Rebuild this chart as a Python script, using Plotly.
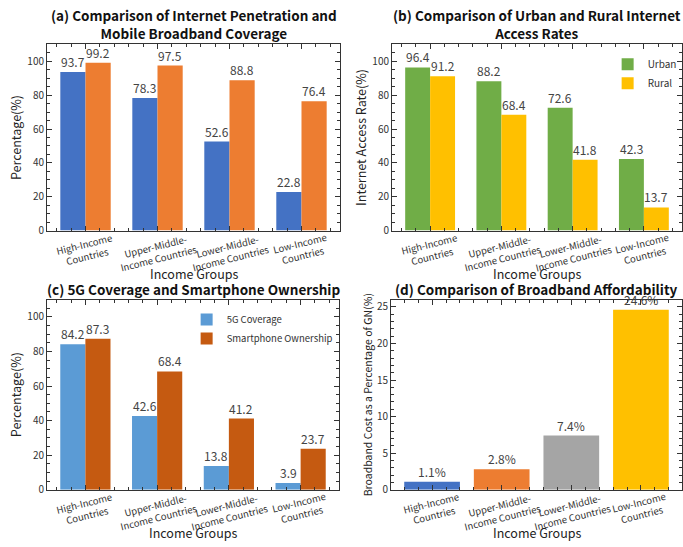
import plotly.graph_objects as go

# Income groups (x categories) and series values
groups = [
    "High-Income<br>Countries",
    "Upper-Middle-<br>Income Countries",
    "Lower-Middle-<br>Income Countries",
    "Low-Income<br>Countries",
]
internet_penetration = [93.7, 78.3, 52.6, 22.8]
mobile_broadband = [99.2, 97.5, 88.8, 76.4]
urban_access = [96.4, 88.2, 72.6, 42.3]
rural_access = [91.2, 68.4, 41.8, 13.7]
coverage_5g = [84.2, 42.6, 13.8, 3.9]
smartphone_own = [87.3, 68.4, 41.2, 23.7]
broadband_cost = [1.1, 2.8, 7.4, 24.6]

pos = list(range(len(groups)))

FONT = "Noto Sans CJK SC"
AX = "#333333"
LBL = "#444444"
HALF = 0.175  # half of the grouped bar width

fig = go.Figure()


def pair(y, name, color, xa, ya, legend=None, show=False):
    return go.Bar(
        x=pos, y=y, name=name, marker=dict(color=color, line=dict(width=0)),
        xaxis=xa, yaxis=ya, showlegend=show, legend=legend,
    )


# (a)
fig.add_trace(pair(internet_penetration, "Internet Penetration", "#4472C4", "x", "y"))
fig.add_trace(pair(mobile_broadband, "Mobile Broadband Coverage", "#ED7D31", "x", "y"))
# (b)
fig.add_trace(pair(urban_access, "Urban", "#70AD47", "x2", "y2", "legend", True))
fig.add_trace(pair(rural_access, "Rural", "#FFC000", "x2", "y2", "legend", True))
# (c)
fig.add_trace(pair(coverage_5g, "5G Coverage", "#5B9BD5", "x3", "y3", "legend2", True))
fig.add_trace(pair(smartphone_own, "Smartphone Ownership", "#C55A11", "x3", "y3", "legend2", True))
# (d)
fig.add_trace(go.Bar(
    x=pos, y=broadband_cost, width=0.8, offset=-0.4,
    marker=dict(color=["#4472C4", "#ED7D31", "#A5A5A5", "#FFC000"], line=dict(width=0)),
    xaxis="x4", yaxis="y4", showlegend=False,
))


def value_labels(xa, ya, values, shift, fmt):
    for p, v in zip(pos, values):
        fig.add_annotation(
            text=fmt.format(v), xref=xa, yref=ya, x=p + shift, y=v,
            xanchor="center", yanchor="bottom", yshift=0, showarrow=False,
            font=dict(size=12, color=LBL, family=FONT),
        )


value_labels("x", "y", internet_penetration, -HALF, "{:.1f}")
value_labels("x", "y", mobile_broadband, HALF, "{:.1f}")
value_labels("x2", "y2", urban_access, -HALF, "{:.1f}")
value_labels("x2", "y2", rural_access, HALF, "{:.1f}")
value_labels("x3", "y3", coverage_5g, -HALF, "{:.1f}")
value_labels("x3", "y3", smartphone_own, HALF, "{:.1f}")
value_labels("x4", "y4", broadband_cost, 0, "{:.1f}%")


def xaxis(domain, anchor, rng):
    return dict(
        domain=domain, anchor=anchor, range=rng, tickmode="array", tickvals=pos,
        showticklabels=False, ticks="inside", ticklen=5, tickcolor=AX,
        showline=True, linecolor=AX, linewidth=1, mirror="allticks",
        showgrid=False, zeroline=False,
        minor=dict(tickmode="linear", tick0=0, dtick=0.2, ticks="inside",
                   ticklen=3, tickcolor=AX, showgrid=False),
    )


def yaxis(domain, anchor, rng, dtick, mdtick, title, size=12.5):
    return dict(
        domain=domain, anchor=anchor, range=rng, tickmode="linear", tick0=0,
        dtick=dtick, ticks="inside", ticklen=5, tickcolor=AX,
        tickfont=dict(size=10, color=AX, family=FONT),
        showline=True, linecolor=AX, linewidth=1, mirror="allticks",
        showgrid=False, zeroline=False,
        minor=dict(tickmode="linear", dtick=mdtick, ticks="inside",
                   ticklen=3, tickcolor=AX, showgrid=False),
        title=dict(text=title, font=dict(size=size, color="#222222", family=FONT),
                   standoff=2),
    )


W, H = 683, 547
xa_l = [47 / W, 340 / W]
xa_r = [392 / W, 682 / W]
xc_l = [47 / W, 339 / W]
xd_r = [391 / W, 682 / W]
y_top = [1 - 233 / H, 1 - 44 / H]
y_bot = [1 - 496 / H, 1 - 303 / H]

grp_range = [-0.535, 3.535]
single_range = [-0.59, 3.59]

fig.update_layout(
    width=W, height=H, margin=dict(l=0, r=0, t=0, b=0),
    paper_bgcolor="white", plot_bgcolor="white",
    font=dict(family=FONT, color=AX),
    barmode="group", bargap=0.3, bargroupgap=0,
    xaxis=xaxis(xa_l, "y", grp_range),
    yaxis=yaxis(y_top, "x", [0, 110], 20, 5, "Percentage(%)"),
    xaxis2=xaxis(xa_r, "y2", grp_range),
    yaxis2=yaxis(y_top, "x2", [0, 110], 20, 5, "Internet Access Rate(%)"),
    xaxis3=xaxis(xc_l, "y3", grp_range),
    yaxis3=yaxis(y_bot, "x3", [0, 110], 20, 5, "Percentage(%)"),
    xaxis4=xaxis(xd_r, "y4", single_range),
    yaxis4=yaxis(y_bot, "x4", [0, 26], 5, 1,
                 "Broadband Cost as a Percentage of GN(%)", size=10.5),
    legend=dict(x=0.998, y=y_top[1] - 0.01, xanchor="right", yanchor="top",
                bgcolor="rgba(0,0,0,0)", font=dict(size=10, color=AX, family=FONT),
                itemwidth=30, tracegroupgap=0),
    legend2=dict(x=xc_l[1] - 0.002, y=y_bot[1] - 0.01, xanchor="right", yanchor="top",
                 bgcolor="rgba(0,0,0,0)", font=dict(size=9.5, color=AX, family=FONT),
                 itemwidth=30, tracegroupgap=0),
)

titles = [
    ("x", "y", "<b>(a) Comparison of Internet Penetration and<br>Mobile Broadband Coverage</b>"),
    ("x2", "y2", "<b>(b) Comparison of Urban and Rural Internet<br>Access Rates</b>"),
    ("x3", "y3", "<b>(c) 5G Coverage and Smartphone Ownership</b>"),
    ("x4", "y4", "<b>(d) Comparison of Broadband Affordability</b>"),
]
for xa, ya, t in titles:
    fig.add_annotation(
        text=t, xref=f"{xa} domain", yref=f"{ya} domain", x=0.5, y=1,
        xanchor="center", yanchor="bottom", yshift=-1, showarrow=False,
        font=dict(size=13.5, color="#111111", family=FONT),
    )

# rotated category labels and x-axis titles
for xa, ya in [("x", "y"), ("x2", "y2"), ("x3", "y3"), ("x4", "y4")]:
    for p, g in zip(pos, groups):
        fig.add_annotation(
            text=g, xref=xa, yref=f"{ya} domain", x=p, y=0, xanchor="center",
            yanchor="top", yshift=3, textangle=-14, showarrow=False,
            font=dict(size=9.5, color=AX, family=FONT), align="center",
        )
    fig.add_annotation(
        text="Income Groups", xref=f"{xa} domain", yref=f"{ya} domain",
        x=0.5, y=0, xanchor="center", yanchor="top", yshift=-31, showarrow=False,
        font=dict(size=12.5, color="#222222", family=FONT),
    )

fig.write_html("out.html")
